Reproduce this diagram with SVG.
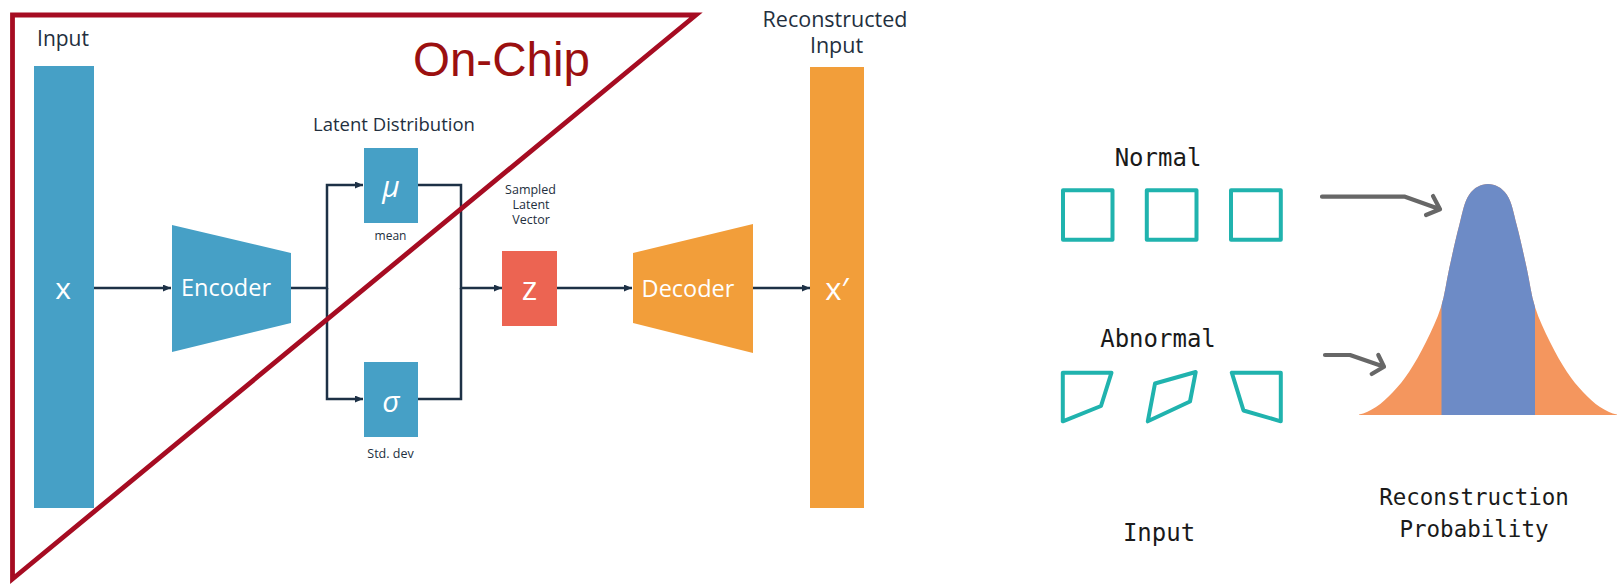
<svg xmlns="http://www.w3.org/2000/svg" width="1618" height="586" viewBox="0 0 1618 586">
<style>
.amz{font-family:"Open Sans","Noto Sans",sans-serif;fill:#232f3e;font-weight:500}
.wht{font-family:"Open Sans","Noto Sans",sans-serif;fill:#ffffff;font-weight:500}
.mono{font-family:"DejaVu Sans Mono","Liberation Mono",monospace;fill:#1a1a1a}
.blue{fill:#46a0c6}
.orng{fill:#f29e3a}
.conn{fill:none;stroke:#1d3146;stroke-width:2.5}
.sq{fill:none;stroke:#20b3ae;stroke-width:4;stroke-linejoin:round}
.garrow{fill:none;stroke:#676767;stroke-width:4.2;stroke-linecap:round;stroke-linejoin:round}
</style>
<defs>
<marker id="ah" markerUnits="userSpaceOnUse" markerWidth="9" markerHeight="8" refX="8" refY="3.5" orient="auto">
<path d="M0,0 L8,3.5 L0,7 z" fill="#1d3146"/>
</marker>
<clipPath id="bellclip">
<path d="M1359,415 L1359,414.5 C1364.7,413.5 1370.3,410.75 1376,407 C1381.7,403.3 1387.5,397.8 1393,392 C1398.5,386.2 1403.5,380.3 1409,372 C1414.5,363.7 1420.7,352.8 1426,342 C1431.3,331.2 1437.1,319.3 1441,307 C1444.9,294.7 1446.25,281.7 1449.3,268 C1452.35,254.3 1456,237.2 1459.3,225 C1462.6,212.8 1464,201.8 1469.3,194.5 C1474.1,187.5 1481,184 1488,184 C1495,184 1501.9,187.5 1506.7,194.5 C1512,201.8 1513.4,212.8 1516.7,225 C1520,237.2 1523.65,254.3 1526.7,268 C1529.75,281.7 1531.1,294.7 1535,307 C1538.9,319.3 1544.7,331.2 1550,342 C1555.3,352.8 1561.5,363.7 1567,372 C1572.5,380.3 1577.5,386.2 1583,392 C1588.5,397.8 1594.3,403.3 1600,407 C1605.7,410.75 1611.3,413.5 1617,414.5 L1617,415 Z"/>
</clipPath>
</defs>
<rect width="1618" height="586" fill="#ffffff"/>

<g id="connectors">
<path class="conn" d="M94,288 H171" marker-end="url(#ah)"/>
<path class="conn" d="M291,288 H327 V185 H363" marker-end="url(#ah)"/>
<path class="conn" d="M327,288 V399 H363" marker-end="url(#ah)"/>
<path class="conn" d="M418,185 H461 V288 H502" marker-end="url(#ah)"/>
<path class="conn" d="M418,399 H461 V288"/>
<path class="conn" d="M557,288 H632" marker-end="url(#ah)"/>
<path class="conn" d="M753,288 H810" marker-end="url(#ah)"/>
<path class="garrow" d="M1322,196.7 L1405,196.7 L1440,209.3 M1433,196 L1440,209.3 L1426,215"/>
<path class="garrow" d="M1325,355 L1350,355 L1384,366.7 M1378.3,355 L1384,366.7 L1371.7,374"/>
</g>

<g id="input-bar">
<text class="amz" x="63" y="46" font-size="21" text-anchor="middle">Input</text>
<rect class="blue" x="34" y="66" width="60" height="442"/>
<text class="wht" x="63" y="298.5" font-size="30" text-anchor="middle">x</text>
</g>

<g id="encoder">
<polygon class="blue" points="172,225 291,253 291,323 172,352"/>
<text class="wht" x="226" y="296" font-size="23.5" text-anchor="middle">Encoder</text>
</g>

<g id="latent-label">
<text class="amz" x="394" y="131" font-size="18.5" text-anchor="middle">Latent Distribution</text>
</g>

<g id="mu">
<rect class="blue" x="364" y="148" width="54" height="75"/>
<text class="wht" x="391" y="197" font-size="30" font-style="italic" text-anchor="middle">μ</text>
<text class="amz" x="390.5" y="240" font-size="12" text-anchor="middle">mean</text>
</g>

<g id="sigma">
<rect class="blue" x="364" y="362" width="54" height="75"/>
<text class="wht" x="391" y="412" font-size="30" font-style="italic" text-anchor="middle">σ</text>
<text class="amz" x="390.5" y="457.5" font-size="12.5" text-anchor="middle">Std. dev</text>
</g>

<g id="z">
<text class="amz" font-size="12.5" text-anchor="middle"><tspan x="530.5" y="194">Sampled</tspan><tspan x="531" y="209">Latent</tspan><tspan x="531" y="223.5">Vector</tspan></text>
<rect x="502" y="251" width="55" height="75" fill="#ec6452"/>
<text class="wht" x="529.5" y="300" font-size="33" font-weight="600" text-anchor="middle">z</text>
</g>

<g id="decoder">
<polygon class="orng" points="633,253 753,224 753,353 633,323"/>
<text class="wht" x="688" y="297" font-size="23.5" text-anchor="middle">Decoder</text>
</g>

<g id="output-bar">
<text class="amz" font-size="21.5" text-anchor="middle"><tspan x="835" y="27">Reconstructed</tspan><tspan x="836.5" y="53">Input</tspan></text>
<rect class="orng" x="810" y="67" width="54" height="441"/>
<text class="wht" x="837" y="300" font-size="31" text-anchor="middle">x′</text>
</g>

<g id="on-chip">
<polygon points="12.5,15 696,15 12.5,579" fill="none" stroke="#a60c22" stroke-width="4.8" stroke-linejoin="miter"/>
<text x="413" y="76" font-family="Liberation Sans, Arial, sans-serif" font-size="47.5" fill="#9b1010">On-Chip</text>
</g>

<g id="normal">
<text class="mono" x="1158" y="166" font-size="24" text-anchor="middle">Normal</text>
<rect class="sq" x="1063" y="190.3" width="49.5" height="49.5"/>
<rect class="sq" x="1146.8" y="190.3" width="49.7" height="49.5"/>
<rect class="sq" x="1231" y="190.3" width="49.8" height="49.5"/>
</g>

<g id="abnormal">
<text class="mono" x="1158" y="347" font-size="24" text-anchor="middle">Abnormal</text>
<polygon class="sq" points="1062.8,372.7 1111.5,372.7 1101,406 1062.8,421.3"/>
<polygon class="sq" points="1155,383.5 1195.7,372 1190,401.5 1147.8,421.3"/>
<polygon class="sq" points="1231.8,372.7 1280.8,372.7 1280.8,421.3 1243.5,410.5"/>
</g>

<g id="input-label">
<text class="mono" x="1159" y="541" font-size="24" text-anchor="middle">Input</text>
</g>

<g id="distribution">
<g clip-path="url(#bellclip)">
<rect x="1355" y="180" width="263" height="236" fill="#f4965e"/>
<rect x="1441.5" y="180" width="93.5" height="236" fill="#6d8bc6"/>
</g>
<text class="mono" font-size="22.5" text-anchor="middle"><tspan x="1474" y="505">Reconstruction</tspan><tspan x="1474" y="537">Probability</tspan></text>
</g>
</svg>
